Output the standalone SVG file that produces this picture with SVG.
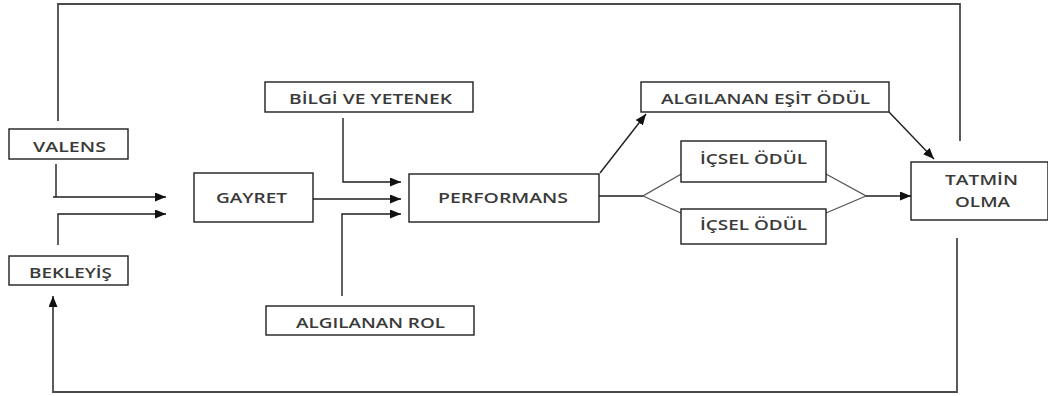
<svg xmlns="http://www.w3.org/2000/svg" width="1048" height="396" viewBox="0 0 1048 396">
  <style>
    .box { fill: #ffffff; stroke: #1e1e1e; stroke-width: 1.4; }
    .lbl { font-family: "Open Sans", "Liberation Sans", sans-serif; font-size: 15px; font-weight: 600; fill: #3a3a3a; }
    .wire { fill: none; stroke: #1e1e1e; stroke-width: 1.4; }
    .thin { fill: none; stroke: #555555; stroke-width: 1.3; }
    .loop { fill: none; stroke: #4a4a4a; stroke-width: 1.8; }
  </style>
  <defs>
    <marker id="arrow" markerUnits="userSpaceOnUse" markerWidth="12" markerHeight="10" refX="11" refY="4.5" orient="auto">
      <path d="M0,0 L11,4.5 L0,9 z" fill="#111111"/>
    </marker>
  </defs>
  <rect width="1048" height="396" fill="#ffffff"/>

  <!-- connectors -->
  <g id="connectors">
    <path class="loop" d="M58,121 V4 H960 V141"/>
    <path class="loop" d="M957,238 V392 H53 V296" marker-end="url(#arrow)"/>
    <path class="wire" d="M53,197 H166" marker-end="url(#arrow)"/>
    <path class="wire" d="M56,164 V197"/>
    <path class="wire" d="M58,245 V214 H166" marker-end="url(#arrow)"/>
    <path class="wire" d="M343,118 V182 H401" marker-end="url(#arrow)"/>
    <path class="wire" d="M313,199 H401" marker-end="url(#arrow)"/>
    <path class="wire" d="M342,296 V214 H401" marker-end="url(#arrow)"/>
    <path class="wire" d="M600,173 L646,114" marker-end="url(#arrow)"/>
    <path class="wire" d="M599,196 H643"/>
    <path class="thin" d="M683,173 L643,196 L683,214"/>
    <path class="thin" d="M826,174 L866,196 L826,213"/>
    <path class="wire" d="M866,196 H911" marker-end="url(#arrow)"/>
    <path class="wire" d="M889,112 L934,159" marker-end="url(#arrow)"/>
  </g>

  <!-- labels are widened horizontally with a 1.28 x-scale -->
  <g id="valens">
    <rect class="box" x="9" y="129" width="119" height="30"/>
    <text class="lbl" transform="translate(33,152) scale(1.28,1)" textLength="57" lengthAdjust="spacingAndGlyphs">VALENS</text>
  </g>
  <g id="bekleyis">
    <rect class="box" x="9" y="256" width="119" height="29"/>
    <text class="lbl" transform="translate(29,278) scale(1.28,1)" textLength="64.8" lengthAdjust="spacingAndGlyphs">BEKLEYİŞ</text>
  </g>
  <g id="gayret">
    <rect class="box" x="194" y="173" width="119" height="49"/>
    <text class="lbl" transform="translate(216,203) scale(1.28,1)" textLength="55.5" lengthAdjust="spacingAndGlyphs">GAYRET</text>
  </g>
  <g id="bilgi-ve-yetenek">
    <rect class="box" x="265" y="82" width="208" height="30"/>
    <text class="lbl" transform="translate(289,104) scale(1.28,1)" textLength="127.3" lengthAdjust="spacingAndGlyphs">BİLGİ VE YETENEK</text>
  </g>
  <g id="performans">
    <rect class="box" x="409" y="174" width="190" height="48"/>
    <text class="lbl" transform="translate(438,203) scale(1.28,1)" textLength="101.6" lengthAdjust="spacingAndGlyphs">PERFORMANS</text>
  </g>
  <g id="algilanan-rol">
    <rect class="box" x="266" y="306" width="208" height="29"/>
    <text class="lbl" transform="translate(296,328) scale(1.28,1)" textLength="116.4" lengthAdjust="spacingAndGlyphs">ALGILANAN ROL</text>
  </g>
  <g id="algilanan-esit-odul">
    <rect class="box" x="641" y="82" width="248" height="30"/>
    <text class="lbl" transform="translate(661,104) scale(1.28,1)" textLength="163.3" lengthAdjust="spacingAndGlyphs">ALGILANAN EŞİT ÖDÜL</text>
  </g>
  <g id="icsel-odul-1">
    <rect class="box" x="681" y="141" width="145" height="41"/>
    <text class="lbl" transform="translate(700,164) scale(1.28,1)" textLength="83.6" lengthAdjust="spacingAndGlyphs">İÇSEL ÖDÜL</text>
  </g>
  <g id="icsel-odul-2">
    <rect class="box" x="681" y="209" width="145" height="35"/>
    <text class="lbl" transform="translate(700,230) scale(1.28,1)" textLength="83.6" lengthAdjust="spacingAndGlyphs">İÇSEL ÖDÜL</text>
  </g>
  <g id="tatmin-olma">
    <rect class="box" x="911" y="162" width="137" height="58"/>
    <text class="lbl" transform="translate(945,185) scale(1.28,1)" textLength="57" lengthAdjust="spacingAndGlyphs">TATMİN</text>
    <text class="lbl" transform="translate(955,207) scale(1.28,1)" textLength="43" lengthAdjust="spacingAndGlyphs">OLMA</text>
  </g>
</svg>
